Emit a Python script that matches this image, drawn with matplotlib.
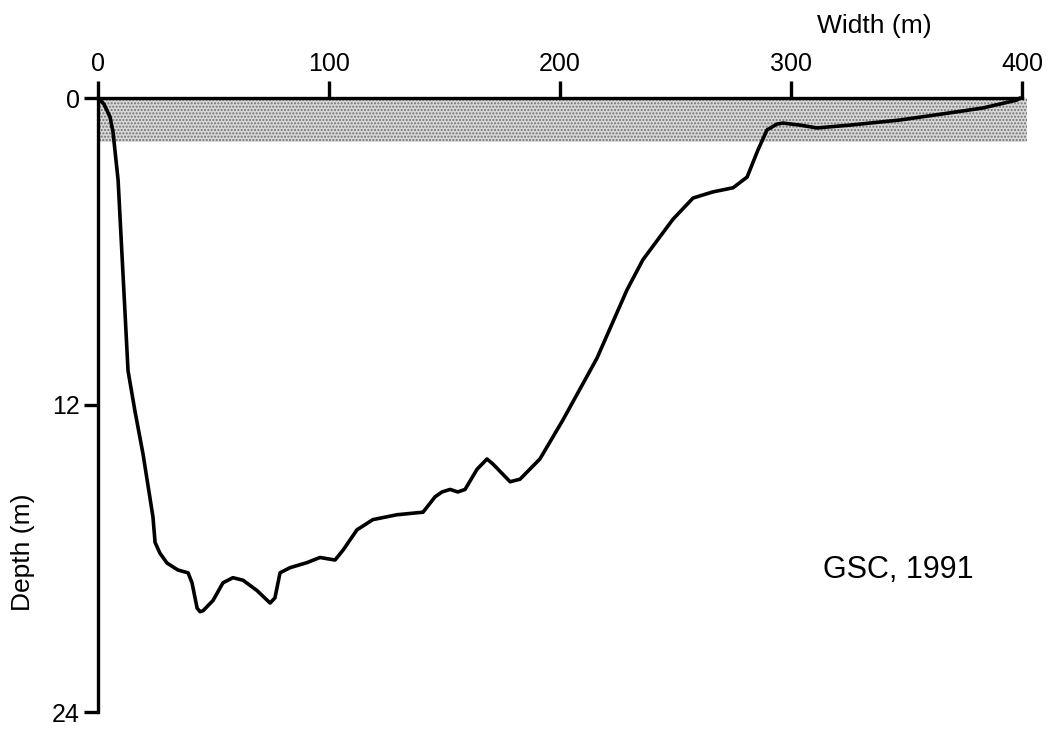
import matplotlib
matplotlib.use("Agg")
import matplotlib.pyplot as plt
from matplotlib.patches import Rectangle

plt.rcParams['font.family'] = ['Liberation Sans', 'DejaVu Sans']
plt.rcParams['hatch.linewidth'] = 1.0

# Cross-section profile: width (m) vs depth (m)
width_m = [0, 2.6, 5.2, 6.5, 8.7, 13.0, 16.0, 19.5, 23.8, 24.7, 26.8, 29.9, 34.6, 39.0,
           40.7, 42.9, 44.2, 45.5, 49.8, 54.1, 58.4, 62.8, 68.8, 74.5, 76.6, 78.8, 83.1,
           90.5, 96.1, 102.6, 106.1, 112.1, 119.0, 129.4, 140.7, 145.9, 148.9, 152.4,
           155.8, 158.9, 164.1, 168.4, 171.0, 178.4, 182.7, 191.3, 201.3, 216.0,
           229.0, 235.9, 248.9, 257.6, 266.2, 274.9, 281.0, 285.7, 289.6, 293.9, 296.5,
           303.9, 311.3, 325.5, 347.2, 368.8, 383.1, 397.8, 399.1]
depth_m = [0, 0.24, 0.74, 1.33, 3.21, 10.66, 12.24, 13.92, 16.38, 17.37, 17.79, 18.18,
           18.45, 18.56, 18.95, 19.94, 20.08, 20.04, 19.64, 18.95, 18.75, 18.85, 19.25,
           19.74, 19.54, 18.56, 18.36, 18.16, 17.96, 18.06, 17.67, 16.88, 16.48, 16.29,
           16.19, 15.59, 15.40, 15.30, 15.40, 15.30, 14.51, 14.11, 14.31, 15.00, 14.90,
           14.11, 12.58, 10.17, 7.50, 6.32, 4.74, 3.91, 3.67, 3.51, 3.09, 2.03, 1.25,
           1.02, 0.98, 1.06, 1.17, 1.06, 0.86, 0.58, 0.39, 0.08, 0]

x_ticks = [0, 100, 200, 300, 400]
y_ticks = [0, 12, 24]
band_depth = 1.72
band_width = 402

fig = plt.figure(figsize=(10.64, 7.29), dpi=100)
ax = fig.add_axes([98/1064, 1 - 712/729, 924/1064, 614/729])

band = Rectangle((0, 0), band_width, band_depth, facecolor='#d8d8d8',
                 edgecolor='#707070', hatch='.....', linewidth=0, clip_on=False, zorder=1)
ax.add_patch(band)

ax.plot(width_m, depth_m, color='black', linewidth=2.6, zorder=3, clip_on=False,
        solid_capstyle='round', solid_joinstyle='round')

ax.set_xlim(0, 400)
ax.set_ylim(24, 0)

for s in ['right', 'bottom']:
    ax.spines[s].set_visible(False)
for s in ['top', 'left']:
    ax.spines[s].set_linewidth(2.4)
    ax.spines[s].set_zorder(4)

ax.xaxis.tick_top()
ax.set_xticks(x_ticks)
ax.set_xticklabels([str(v) for v in x_ticks])
ax.set_yticks(y_ticks)
ax.set_yticklabels([str(v) for v in y_ticks])
ax.tick_params(axis='x', direction='out', length=12, width=2.4, labelsize=18, pad=4)
ax.tick_params(axis='y', direction='out', length=10, width=2.4, labelsize=18, pad=3)

fig.text(874/1064, 1 - 26/729, 'Width (m)', ha='center', va='center', fontsize=19)
fig.text(23/1064, 1 - 552/729, 'Depth (m)', ha='center', va='center', fontsize=19, rotation=90)
fig.text(898/1064, 1 - 578/729, 'GSC, 1991', ha='center', va='baseline', fontsize=22)

fig.savefig('out.png', dpi=100, facecolor='white')
